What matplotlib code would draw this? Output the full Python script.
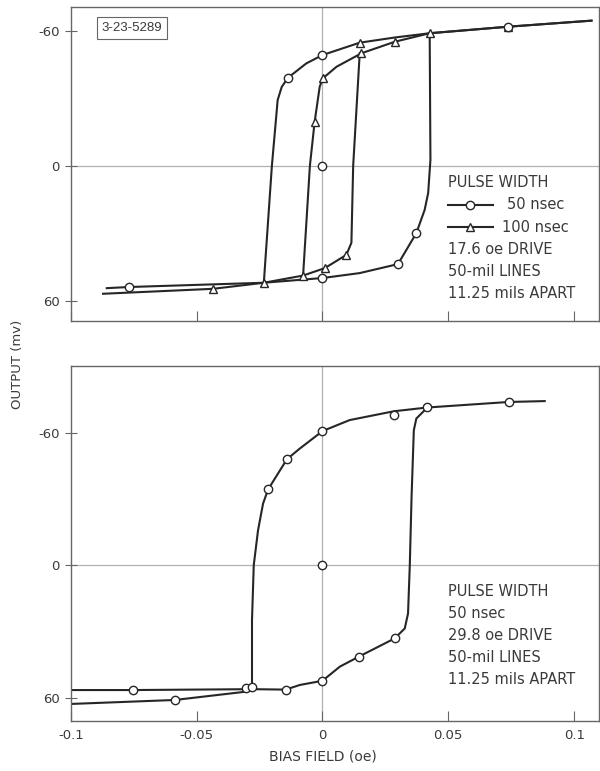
import matplotlib
matplotlib.use("Agg")
import matplotlib.pyplot as plt
import numpy as np

# ---- top panel: 17.6 oe drive ----
# 50 nsec loop, field decreasing (upper branch, left switch, lower-left tail)
top50_dn_x = [0.1069, 0.0737, 0.0426, 0.0287, 0.0148, 0.0, -0.0064, -0.0137, -0.0162, -0.0178, -0.0201, -0.0233, -0.0770, -0.0857]
top50_dn_y = [-64.6, -61.9, -59.0, -57.1, -54.8, -49.3, -45.6, -39.2, -35.1, -29.3, 0.0, 52.0, 53.9, 54.4]
# 50 nsec loop, field increasing (lower branch, right switch)
top50_up_x = [-0.0233, 0.0, 0.0148, 0.0300, 0.0373, 0.0406, 0.0420, 0.0429, 0.0426]
top50_up_y = [52.0, 49.9, 47.7, 43.7, 29.9, 19.6, 12.1, -2.7, -59.0]
top50_pts_x = [-0.0770, 0.0, 0.0300, 0.0373, -0.0137, 0.0, 0.0737, 0.0]
top50_pts_y = [53.9, 49.9, 43.7, 29.9, -39.2, -49.3, -61.9, 0.0]

# 100 nsec loop
top100_dn_x = [0.1069, 0.0737, 0.0426, 0.0287, 0.0155, 0.0056, 0.0002, -0.0011, -0.0031, -0.0050, -0.0077, -0.0233, -0.0435, -0.0872]
top100_dn_y = [-64.6, -61.9, -59.0, -55.2, -50.1, -44.1, -39.0, -35.2, -19.7, 0.0, 48.8, 52.0, 54.7, 56.9]
top100_up_x = [-0.0077, 0.0009, 0.0095, 0.0115, 0.0122, 0.0148]
top100_up_y = [48.8, 45.5, 39.6, 34.2, 0.0, -50.1]
top100_pts_x = [-0.0435, -0.0233, -0.0077, 0.0009, 0.0095, -0.0031, 0.0002, 0.0155, 0.0287, 0.0148, 0.0426, 0.0737]
top100_pts_y = [54.7, 52.0, 48.8, 45.5, 39.6, -19.7, -39.0, -50.1, -55.2, -54.8, -59.0, -61.9]

# ---- bottom panel: 29.8 oe drive, 50 nsec ----
bot_dn_x = [0.0883, 0.0740, 0.0417, 0.0284, 0.0108, 0.0, -0.0090, -0.0141, -0.0216, -0.0236, -0.0256, -0.0273, -0.0280, -0.0280, -0.0309, -0.0587, -0.1]
bot_dn_y = [-74.3, -73.9, -71.4, -69.7, -65.7, -60.7, -52.8, -48.0, -34.3, -27.9, -15.8, 0.0, 24.9, 55.8, 57.4, 61.1, 62.9]
bot_up_x = [-0.1, -0.0752, -0.0280, -0.0146, -0.0090, 0.0, 0.0069, 0.0144, 0.0287, 0.0327, 0.0340, 0.0347, 0.0354, 0.0363, 0.0373, 0.0417]
bot_up_y = [56.6, 56.6, 56.2, 56.4, 54.3, 52.4, 46.0, 41.5, 33.2, 28.7, 21.9, 0.0, -30.9, -61.1, -66.4, -71.4]
bot_pts_x = [-0.0752, -0.0587, -0.0305, -0.0280, -0.0146, 0.0, 0.0144, 0.0287, -0.0216, -0.0141, 0.0, 0.0284, 0.0417, 0.0740, 0.0]
bot_pts_y = [56.6, 61.1, 55.8, 55.4, 56.6, 52.4, 41.5, 33.2, -34.3, -48.0, -60.7, -67.9, -71.4, -73.9, 0.0]

xticks = [-0.1, -0.05, 0, 0.05, 0.1]
xticklabels = ["-0.1", "-0.05", "0", "0.05", "0.1"]
yticks = [-60, 0, 60]
yticklabels = ["-60", "0", "60"]

top_notes = ["PULSE WIDTH", "", "", "17.6 oe DRIVE", "50-mil LINES", "11.25 mils APART"]
bot_notes = ["PULSE WIDTH", "50 nsec", "29.8 oe DRIVE", "50-mil LINES", "11.25 mils APART"]

LINE = "#262626"
GRID = "#b0b0b0"
FRAME = "#666666"
TXT = "#3a3a3a"

plt.rcParams["font.family"] = "DejaVu Sans"

fig = plt.figure(figsize=(6.0, 7.71), dpi=100)
ax1 = fig.add_axes([0.118, 0.5837, 0.880, 0.4073])
ax2 = fig.add_axes([0.118, 0.0652, 0.880, 0.4601])


def style(ax, ylim, show_xlabels):
    ax.set_xlim(-0.1, 0.1098)
    ax.set_ylim(*ylim)
    ax.axhline(0, color=GRID, lw=0.9, zorder=0)
    ax.axvline(0, color=GRID, lw=0.9, zorder=0)
    ax.set_xticks(xticks)
    ax.set_yticks(yticks)
    ax.set_yticklabels(yticklabels)
    if show_xlabels:
        ax.set_xticklabels(xticklabels)
    else:
        ax.set_xticklabels([])
    ax.tick_params(axis="x", direction="in", length=7, color=FRAME, labelcolor=TXT,
                   labelsize=9.5, pad=6)
    ax.tick_params(axis="y", direction="inout", length=8, color=FRAME, labelcolor=TXT,
                   labelsize=9.5, pad=4)
    for s in ax.spines.values():
        s.set_color(FRAME)
        s.set_linewidth(1.0)


def draw_line(ax, x, y):
    ax.plot(x, y, color=LINE, lw=1.5, zorder=2, solid_joinstyle="round")


style(ax1, (69.0, -70.7), False)
draw_line(ax1, top50_dn_x, top50_dn_y)
draw_line(ax1, top50_up_x, top50_up_y)
draw_line(ax1, top100_dn_x, top100_dn_y)
draw_line(ax1, top100_up_x, top100_up_y)
ax1.plot(top100_pts_x, top100_pts_y, ls="none", marker="^", ms=6, mfc="white",
         mec=LINE, mew=1.0, zorder=3)
ax1.plot(top50_pts_x, top50_pts_y, ls="none", marker="o", ms=6, mfc="white",
         mec=LINE, mew=1.0, zorder=4)

ax1.text(0.058, 0.933, "3-23-5289", transform=ax1.transAxes, fontsize=9.5,
         color=TXT, va="center", ha="left", family="Liberation Sans",
         bbox=dict(boxstyle="square,pad=0.35", fc="white", ec=FRAME, lw=0.8))

nx = 0.714
ny0 = 0.44
dy = 0.0707
for i, t in enumerate(top_notes):
    if t:
        ax1.text(nx, ny0 - i * dy, t, transform=ax1.transAxes, fontsize=10.5,
                 color=TXT, va="center", ha="left")
# legend samples
for i, (m, lab, tx) in enumerate([("o", "50 nsec", 0.826), ("^", "100 nsec", 0.816)]):
    yy = ny0 - (i + 1) * dy
    ax1.plot([nx, 0.799], [yy, yy], transform=ax1.transAxes, color=LINE, lw=1.5)
    ax1.plot([0.756], [yy], transform=ax1.transAxes, ls="none", marker=m, ms=6,
             mfc="white", mec=LINE, mew=1.0)
    ax1.text(tx, yy, lab, transform=ax1.transAxes,
             fontsize=10.5, color=TXT, va="center", ha="left")

style(ax2, (70.5, -90.2), True)
draw_line(ax2, bot_dn_x, bot_dn_y)
draw_line(ax2, bot_up_x, bot_up_y)
ax2.plot(bot_pts_x, bot_pts_y, ls="none", marker="o", ms=6, mfc="white",
         mec=LINE, mew=1.0, zorder=4)

ny0b = 0.364
dyb = 0.0621
for i, t in enumerate(bot_notes):
    ax2.text(nx, ny0b - i * dyb, t, transform=ax2.transAxes, fontsize=10.5,
             color=TXT, va="center", ha="left")

fig.text(323 / 600, 1 - 757 / 771, "BIAS FIELD (oe)", ha="center", va="center",
         fontsize=10, color=TXT)
fig.text(18 / 600, 1 - 364 / 771, "OUTPUT (mv)", ha="center", va="center",
         rotation=90, fontsize=9.5, color=TXT)

fig.savefig("out.png", dpi=100)
